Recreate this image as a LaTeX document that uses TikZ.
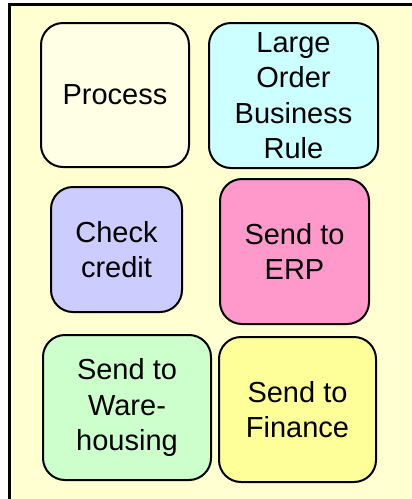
\documentclass[tikz,border=0pt]{standalone}
\usepackage{fontspec}
\setmainfont{Liberation Sans}
\definecolor{bgyellow}{HTML}{FFFFD2}
\definecolor{cream}{HTML}{FFFFE6}
\definecolor{lcyan}{HTML}{CCFFFF}
\definecolor{lviolet}{HTML}{CCCCFF}
\definecolor{lpink}{HTML}{FF99CC}
\definecolor{lgreen}{HTML}{CCFFCC}
\definecolor{lyellow}{HTML}{FFFF99}
\begin{document}
\begin{tikzpicture}[x=1pt,y=1pt,
  task/.style={draw=black, line width=2pt, rounded corners=22pt, align=center,
    font=\fontsize{29}{35.5}\selectfont, inner sep=0pt}]
\useasboundingbox (0,0) rectangle (412,-499);
\fill[bgyellow] (9,-4.5) rectangle (412,-499);
\draw[line width=3pt] (9,-499) -- (9,-4.5) -- (412,-4.5);
\node[task, fill=cream, minimum width=148pt, minimum height=144pt] (process) at (115,-95) {Process};
\node[task, fill=lcyan, minimum width=169pt, minimum height=145pt] (large) at (293.5,-95.5) {Large\\Order\\Business\\Rule};
\node[task, fill=lviolet, minimum width=131pt, minimum height=125pt] (check) at (116.5,-249.5) {Check\\credit};
\node[task, fill=lpink, minimum width=149pt, minimum height=145pt] (erp) at (294.5,-251.5) {Send to\\ERP};
\node[task, fill=lgreen, minimum width=168pt, minimum height=145pt] (ware) at (127,-407.5) {Send to\\Ware-\\housing};
\node[task, fill=lyellow, minimum width=157pt, minimum height=145pt] (fin) at (297.5,-409.5) {Send to\\Finance};
\end{tikzpicture}
\end{document}
